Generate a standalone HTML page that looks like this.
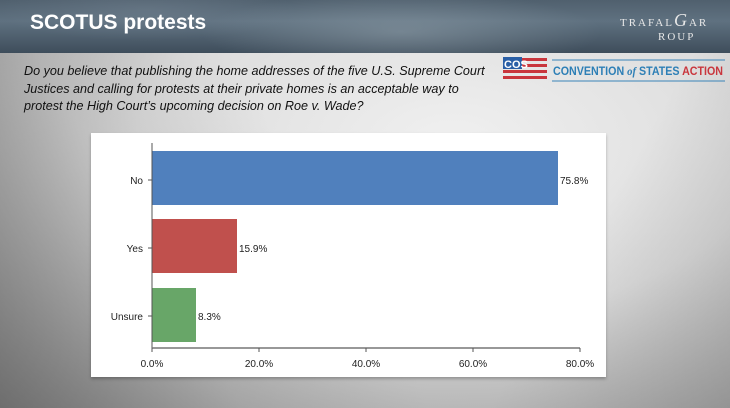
<!DOCTYPE html>
<html><head><meta charset="utf-8"><style>
body{margin:0;width:730px;height:408px;overflow:hidden;font-family:"Liberation Sans",sans-serif;position:relative;
background:radial-gradient(ellipse 700px 380px at 62% 35%,#f0f0f0 0%,#dcdcdc 45%,#a9a9a9 80%,#8a8a8a 100%);}
.bl{position:absolute;inset:0;background:linear-gradient(60deg,rgba(80,80,80,.55) 0%,rgba(120,120,120,.2) 25%,transparent 45%),linear-gradient(300deg,rgba(100,100,100,.3) 0%,transparent 25%);}
.banner{position:absolute;left:0;top:0;width:730px;height:53px;
background:linear-gradient(180deg,#50606e 0%,#5f7180 40%,#3e4d5b 100%);}
.banner:after{content:"";position:absolute;inset:0;background:radial-gradient(ellipse 200px 40px at 55% 60%,rgba(150,165,175,.5),transparent),radial-gradient(ellipse 150px 30px at 20% 20%,rgba(120,135,150,.4),transparent);}
.title{position:absolute;left:30px;top:11px;color:#fff;font-weight:bold;font-size:21px;z-index:2}
.tg{position:absolute;left:620px;top:10px;color:#e8e8e8;font-family:"Liberation Serif",serif;font-size:11px;letter-spacing:2px;z-index:2}
.q{position:absolute;left:24px;top:63px;width:500px;white-space:nowrap;font-style:italic;font-size:12.6px;line-height:17.5px;color:#111}
.panel{position:absolute;left:91px;top:133px;width:515px;height:244px;background:#fff;box-shadow:0 2px 3px rgba(0,0,0,.25)}
</style></head><body>
<div class="bl"></div>
<div class="banner"></div>
<div class="title">SCOTUS protests</div>
<div class="tg">TRAFAL<span style="font-size:18px;font-style:italic">G</span>AR<br><span style="margin-left:38px">ROUP</span></div>
<div class="q">Do you believe that publishing the home addresses of the five U.S. Supreme Court<br>Justices and calling for protests at their private homes is an acceptable way to<br>protest the High Court’s upcoming decision on Roe v. Wade?</div>
<svg style="position:absolute;left:500px;top:56px" width="230" height="30">
<rect x="3" y="2" width="44" height="3" fill="#c9363d"/>
<rect x="3" y="8" width="44" height="3" fill="#c9363d"/>
<rect x="3" y="14" width="44" height="3" fill="#c9363d"/>
<rect x="3" y="20" width="44" height="3" fill="#c9363d"/>
<rect x="3" y="1" width="19" height="12" fill="#2a5fa6"/>
<text x="4" y="12" font-family="Liberation Sans" font-weight="bold" font-size="11" fill="#fff">COS</text>
<line x1="52" y1="4" x2="225" y2="4" stroke="#3a84b8" stroke-width="1"/>
<line x1="52" y1="25" x2="225" y2="25" stroke="#3a84b8" stroke-width="1"/>
<text x="53" y="19" font-family="Liberation Sans" font-weight="bold" font-size="12" fill="#2d7fb6" textLength="170" lengthAdjust="spacingAndGlyphs">CONVENTION <tspan font-style="italic" font-family="Liberation Serif">of</tspan> STATES <tspan fill="#c9363d">ACTION</tspan></text>
</svg>
<div class="panel"></div>
<svg style="position:absolute;left:0;top:0" width="730" height="408" font-family="Liberation Sans" font-size="10" fill="#222">
<rect x="152" y="151" width="406" height="54" fill="#5080bd"/>
<rect x="152" y="219" width="85" height="54" fill="#c0504d"/>
<rect x="152" y="288" width="44" height="54" fill="#68a668"/>
<line x1="152" y1="143" x2="152" y2="348" stroke="#555"/>
<line x1="152" y1="348" x2="580" y2="348" stroke="#777" stroke-width="1.5"/>
<g stroke="#555"><line x1="148" y1="180" x2="152" y2="180"/><line x1="148" y1="248" x2="152" y2="248"/><line x1="148" y1="316" x2="152" y2="316"/>
<line x1="152" y1="348" x2="152" y2="352"/><line x1="259" y1="348" x2="259" y2="352"/><line x1="366" y1="348" x2="366" y2="352"/><line x1="473" y1="348" x2="473" y2="352"/><line x1="580" y1="348" x2="580" y2="352"/></g>
<g text-anchor="end"><text x="143" y="184">No</text><text x="143" y="252">Yes</text><text x="143" y="320">Unsure</text></g>
<text x="560" y="184">75.8%</text><text x="239" y="252">15.9%</text><text x="198" y="320">8.3%</text>
<g text-anchor="middle"><text x="152" y="367">0.0%</text><text x="259" y="367">20.0%</text><text x="366" y="367">40.0%</text><text x="473" y="367">60.0%</text><text x="580" y="367">80.0%</text></g>
</svg>
</body></html>
